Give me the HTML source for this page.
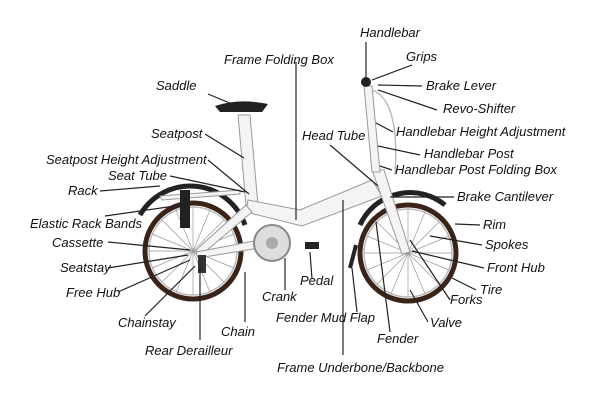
<!DOCTYPE html>
<html><head><meta charset="utf-8"><style>
html,body{margin:0;padding:0;background:#fff;}
svg{display:block}
text{font-family:"Liberation Sans",sans-serif;font-style:italic;font-size:13px;fill:#111}
</style></head><body>
<svg width="600" height="400" viewBox="0 0 600 400">
<rect width="600" height="400" fill="#fff"/>
<g fill="none">
<circle cx="193" cy="251" r="48" stroke="#3a2418" stroke-width="5"/>
<circle cx="193" cy="251" r="44" stroke="#bbb" stroke-width="1.5"/>
<circle cx="408" cy="253" r="48" stroke="#3a2418" stroke-width="5"/>
<circle cx="408" cy="253" r="44" stroke="#bbb" stroke-width="1.5"/>
<g stroke="#999" stroke-width="0.7">
<line x1="193" y1="207" x2="193" y2="295"/><line x1="149" y1="251" x2="237" y2="251"/>
<line x1="162" y1="220" x2="224" y2="282"/><line x1="224" y1="220" x2="162" y2="282"/>
<line x1="176" y1="210" x2="210" y2="292"/><line x1="210" y1="210" x2="176" y2="292"/>
<line x1="152" y1="234" x2="234" y2="268"/><line x1="152" y1="268" x2="234" y2="234"/>
<line x1="408" y1="209" x2="408" y2="297"/><line x1="364" y1="253" x2="452" y2="253"/>
<line x1="377" y1="222" x2="439" y2="284"/><line x1="439" y1="222" x2="377" y2="284"/>
<line x1="391" y1="212" x2="425" y2="294"/><line x1="425" y1="212" x2="391" y2="294"/>
<line x1="367" y1="236" x2="449" y2="270"/><line x1="367" y1="270" x2="449" y2="236"/>
</g>
<path d="M140 215 A58 58 0 0 1 245 225" stroke="#222" stroke-width="5"/>
<path d="M360 225 A55 55 0 0 1 445 205" stroke="#222" stroke-width="5"/>
<path d="M356 245 L350 268" stroke="#222" stroke-width="4"/>
</g>
<g stroke="#999" stroke-width="1" fill="#f4f4f4">
<path d="M238 115 L250 115 L258 205 L246 205 Z"/>
<path d="M248 200 L300 210 L372 180 L382 196 L302 226 L246 212 Z"/>
<path d="M196 250 L246 205 L252 212 L200 256 Z"/>
<path d="M196 252 L270 238 L272 246 L198 258 Z"/>
<path d="M372 170 L384 170 L410 252 L402 254 Z"/>
<path d="M364 86 L372 86 L380 172 L372 172 Z"/>
<path d="M160 196 L240 190 L240 194 L162 200 Z"/>
</g>
<path d="M372 90 Q400 100 395 175" stroke="#bbb" fill="none" stroke-width="1.5"/>
<circle cx="272" cy="243" r="18" fill="#ddd" stroke="#888" stroke-width="2"/>
<circle cx="272" cy="243" r="6" fill="#aaa"/>
<rect x="305" y="242" width="14" height="7" fill="#222"/>
<path d="M215 106 Q240 98 268 104 L262 112 L220 112 Z" fill="#222"/>
<circle cx="366" cy="82" r="5" fill="#222"/>
<rect x="180" y="190" width="10" height="38" fill="#222"/>
<rect x="198" y="255" width="8" height="18" fill="#333"/>
<g stroke="#222" stroke-width="1.2" fill="none">
<line x1="366" y1="42" x2="366" y2="78"/>
<line x1="412" y1="65" x2="372" y2="80"/>
<line x1="422" y1="86" x2="378" y2="85"/>
<line x1="437" y1="110" x2="378" y2="90"/>
<line x1="393" y1="132" x2="376" y2="123"/>
<line x1="420" y1="155" x2="378" y2="146"/>
<line x1="392" y1="170" x2="380" y2="166"/>
<line x1="454" y1="197" x2="390" y2="197"/>
<line x1="480" y1="225" x2="455" y2="224"/>
<line x1="482" y1="245" x2="430" y2="236"/>
<line x1="484" y1="268" x2="412" y2="251"/>
<line x1="476" y1="290" x2="452" y2="278"/>
<line x1="450" y1="300" x2="410" y2="240"/>
<line x1="428" y1="322" x2="410" y2="290"/>
<line x1="390" y1="332" x2="376" y2="222"/>
<line x1="343" y1="355" x2="343" y2="200"/>
<line x1="357" y1="312" x2="352" y2="268"/>
<line x1="296" y1="62" x2="296" y2="220"/>
<line x1="330" y1="145" x2="378" y2="186"/>
<line x1="312" y1="279" x2="310" y2="252"/>
<line x1="285" y1="290" x2="285" y2="258"/>
<line x1="245" y1="322" x2="245" y2="272"/>
<line x1="200" y1="340" x2="200" y2="262"/>
<line x1="145" y1="316" x2="195" y2="266"/>
<line x1="118" y1="292" x2="190" y2="260"/>
<line x1="108" y1="268" x2="188" y2="255"/>
<line x1="108" y1="242" x2="190" y2="250"/>
<line x1="105" y1="216" x2="182" y2="205"/>
<line x1="100" y1="191" x2="160" y2="186"/>
<line x1="170" y1="176" x2="245" y2="192"/>
<line x1="208" y1="160" x2="249" y2="194"/>
<line x1="205" y1="134" x2="244" y2="158"/>
<line x1="208" y1="94" x2="232" y2="104"/>
</g>
<text x="360" y="37">Handlebar</text>
<text x="406" y="61">Grips</text>
<text x="426" y="90">Brake Lever</text>
<text x="443" y="113">Revo-Shifter</text>
<text x="396" y="136">Handlebar Height Adjustment</text>
<text x="424" y="158">Handlebar Post</text>
<text x="395" y="174">Handlebar Post Folding Box</text>
<text x="457" y="201">Brake Cantilever</text>
<text x="483" y="229">Rim</text>
<text x="485" y="249">Spokes</text>
<text x="487" y="272">Front Hub</text>
<text x="480" y="294">Tire</text>
<text x="450" y="304">Forks</text>
<text x="430" y="327">Valve</text>
<text x="377" y="343">Fender</text>
<text x="277" y="372">Frame Underbone/Backbone</text>
<text x="276" y="322">Fender Mud Flap</text>
<text x="221" y="336">Chain</text>
<text x="145" y="355">Rear Derailleur</text>
<text x="118" y="327">Chainstay</text>
<text x="262" y="301">Crank</text>
<text x="300" y="285">Pedal</text>
<text x="66" y="297">Free Hub</text>
<text x="60" y="272">Seatstay</text>
<text x="52" y="247">Cassette</text>
<text x="30" y="228">Elastic Rack Bands</text>
<text x="68" y="195">Rack</text>
<text x="108" y="180">Seat Tube</text>
<text x="46" y="164">Seatpost Height Adjustment</text>
<text x="151" y="138">Seatpost</text>
<text x="156" y="90">Saddle</text>
<text x="224" y="64">Frame Folding Box</text>
<text x="302" y="140">Head Tube</text>
</svg>
</body></html>
